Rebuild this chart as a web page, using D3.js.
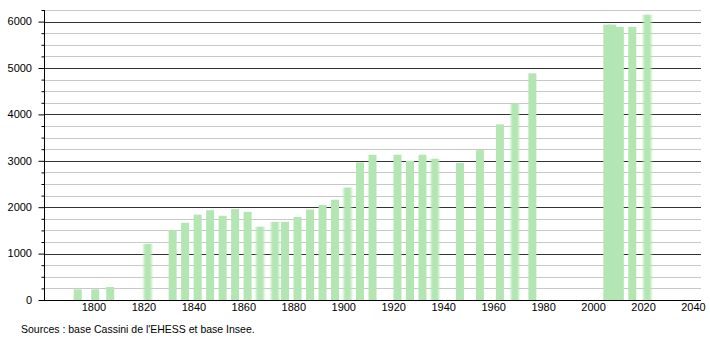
<!DOCTYPE html>
<html>
<head>
<meta charset="utf-8">
<script src="https://cdn.jsdelivr.net/npm/d3@7"></script>
<style>
  body { margin: 0; background: #fff; }
  svg { display: block; font-family: "Liberation Sans", Arial, sans-serif; }
</style>
</head>
<body>
<svg id="chart" width="710" height="340"></svg>
<script>
// census years and population
const years = [1793, 1800, 1806, 1821, 1831, 1836, 1841, 1846, 1851, 1856,
  1861, 1866, 1872, 1876, 1881, 1886, 1891, 1896, 1901, 1906,
  1911, 1921, 1926, 1931, 1936, 1946, 1954, 1962, 1968, 1975,
  2005, 2007, 2010, 2015, 2021]
const population = [230, 230, 280, 1210, 1510, 1665, 1840, 1935, 1815, 1960,
  1900, 1580, 1685, 1685, 1790, 1950, 2050, 2160, 2425, 2965,
  3130, 3130, 3000, 3130, 3045, 2955, 3230, 3785, 4240, 4885,
  5935, 5935, 5885, 5885, 6150]
const xTicks = [1800, 1820, 1840, 1860, 1880, 1900, 1920, 1940, 1960, 1980, 2000, 2020, 2040]
const yTicks = [0, 1000, 2000, 3000, 4000, 5000, 6000]
const source = "Sources : base Cassini de l'EHESS et base Insee."

let svg = d3.select('#chart')

let plotLeft = 44, plotRight = 701, plotTop = 10, plotBottom = 300
let barWidth = 8

let x = d3.scaleLinear().domain([1780, 2043]).range([plotLeft, plotRight])
let y = d3.scaleLinear().domain([0, 6250]).range([plotBottom, plotTop])

// bars that look smeared in the original image
let soft = new Set([1821, 1866, 1872, 1901, 1936, 1968, 2021])

let defs = svg.append('defs')
defs.append('filter')
  .attr('id', 'soft')
  .attr('x', '-50%').attr('width', '200%')
  .append('feGaussianBlur')
  .attr('stdDeviation', '1.3 0')

// minor grid every 250
svg.append('g')
  .attr('class', 'minor-grid')
  .selectAll('line')
  .data(d3.range(250, 6251, 250).filter(v => v % 1000 !== 0))
  .enter().append('line')
  .attr('x1', plotLeft).attr('x2', plotRight)
  .attr('y1', v => Math.round(y(v)) + 0.5)
  .attr('y2', v => Math.round(y(v)) + 0.5)
  .attr('stroke', '#c8c8c8')
  .attr('stroke-width', 1)

// major grid
svg.append('g')
  .attr('class', 'major-grid')
  .selectAll('line')
  .data(yTicks.slice(1))
  .enter().append('line')
  .attr('x1', plotLeft).attr('x2', plotRight)
  .attr('y1', v => Math.round(y(v)) + 0.5)
  .attr('y2', v => Math.round(y(v)) + 0.5)
  .attr('stroke', '#333')
  .attr('stroke-width', 1)

// bars
svg.append('g')
  .attr('class', 'bars')
  .selectAll('rect')
  .data(years)
  .enter().append('rect')
  .attr('x', (yr) => x(yr + 0.5) - barWidth / 2)
  .attr('width', barWidth)
  .attr('y', (yr, i) => y(population[i]))
  .attr('height', (yr, i) => plotBottom - y(population[i]))
  .attr('fill', '#b3e6b3')
  .attr('filter', yr => soft.has(yr) ? 'url(#soft)' : null)

// y axis
let yAxis = d3.axisLeft(y)
  .tickValues(d3.range(0, 6251, 250))
  .tickSize(3)
  .tickFormat('')
let gy = svg.append('g')
  .attr('transform', `translate(${plotLeft + 0.5},0)`)
  .call(yAxis)
gy.select('.domain').remove()
gy.selectAll('.tick line')
  .attr('stroke', '#000')
  .attr('x2', v => v % 1000 === 0 ? -6 : -3)

svg.append('line')
  .attr('x1', plotLeft + 0.5).attr('x2', plotLeft + 0.5)
  .attr('y1', plotTop).attr('y2', plotBottom + 0.5)
  .attr('stroke', '#000')

svg.append('g')
  .attr('class', 'y-labels')
  .selectAll('text')
  .data(yTicks)
  .enter().append('text')
  .attr('x', 32)
  .attr('y', v => y(v))
  .attr('dy', '0.35em')
  .attr('text-anchor', 'end')
  .attr('font-size', 11)
  .attr('fill', '#000')
  .text(v => v)

// x axis
svg.append('line')
  .attr('x1', plotLeft).attr('x2', plotRight)
  .attr('y1', plotBottom + 0.5).attr('y2', plotBottom + 0.5)
  .attr('stroke', '#000')

svg.append('g')
  .attr('class', 'x-labels')
  .selectAll('text')
  .data(xTicks)
  .enter().append('text')
  .attr('x', yr => x(yr))
  .attr('y', 311)
  .attr('text-anchor', 'middle')
  .attr('font-size', 11)
  .attr('fill', '#000')
  .text(yr => yr)

svg.append('text')
  .attr('x', 21)
  .attr('y', 333)
  .attr('font-size', 10.5)
  .attr('fill', '#000')
  .text(source)
</script>
</body>
</html>
